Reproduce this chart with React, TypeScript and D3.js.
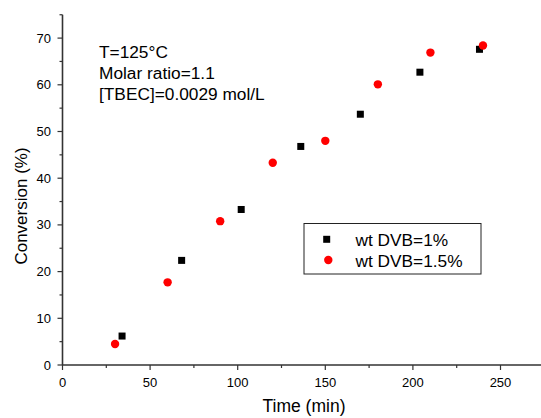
import React from "react";
import * as d3 from "d3";

const timeDVB1 = [34, 68, 102, 136, 170, 204, 238];
const convDVB1 = [6.2, 22.4, 33.3, 46.8, 53.7, 62.7, 67.6];
const timeDVB15 = [30, 60, 90, 120, 150, 180, 210, 240];
const convDVB15 = [4.5, 17.7, 30.8, 43.3, 48.0, 60.1, 66.9, 68.4];
const xTicks = [0, 50, 100, 150, 200, 250];
const yTicks = [0, 10, 20, 30, 40, 50, 60, 70];
const annotations = ["T=125°C", "Molar ratio=1.1", "[TBEC]=0.0029 mol/L"];
const legendLabels = ["wt DVB=1%", "wt DVB=1.5%"];

const W = 541;
const H = 418;
const x0 = 62.5;
const pxPerMin = 1.752;
const yBottom = 365;
const pxPerPct = 4.67;

export default function App() {
  const x = d3.scaleLinear().domain([0, 275]).range([x0, x0 + 275 * pxPerMin]);
  const y = d3.scaleLinear().domain([0, 75]).range([yBottom, yBottom - 75 * pxPerPct]);
  const xMinor = d3.range(25, 276, 50);
  const yMinor = d3.range(5, 76, 10);
  const axisColor = "#333";
  const font = "'Liberation Sans', Arial, sans-serif";

  return (
    <svg width={W} height={H} style={{ position: "absolute", left: 0, top: 0, background: "#fff" }} fontFamily={font}>
      <rect x={0} y={0} width={W} height={H} fill="#fff" />
      {/* axes lines */}
      <line x1={x(0)} x2={W} y1={y(0)} y2={y(0)} stroke={axisColor} strokeWidth={1.6} />
      <line x1={x(0)} x2={x(0)} y1={y(0)} y2={y(75)} stroke={axisColor} strokeWidth={1.6} />
      {/* x ticks */}
      {xTicks.map((t) => (
        <g key={"xt" + t}>
          <line x1={x(t)} x2={x(t)} y1={y(0)} y2={y(0) + 5} stroke={axisColor} strokeWidth={1.2} />
          <text x={x(t)} y={387} fontSize={13} textAnchor="middle" fill="#000">{t}</text>
        </g>
      ))}
      {xMinor.filter((t) => x(t) < W).map((t) => (
        <line key={"xm" + t} x1={x(t)} x2={x(t)} y1={y(0)} y2={y(0) + 3} stroke={axisColor} strokeWidth={1.2} />
      ))}
      {/* y ticks */}
      {yTicks.map((t) => (
        <g key={"yt" + t}>
          <line x1={x(0) - 5} x2={x(0)} y1={y(t)} y2={y(t)} stroke={axisColor} strokeWidth={1.2} />
          <text x={51} y={y(t) + 4.5} fontSize={13} textAnchor="end" fill="#000">{t}</text>
        </g>
      ))}
      {yMinor.map((t) => (
        <line key={"ym" + t} x1={x(0) - 3} x2={x(0)} y1={y(t)} y2={y(t)} stroke={axisColor} strokeWidth={1.2} />
      ))}
      {/* axis titles */}
      <text x={304} y={412} fontSize={17.5} textAnchor="middle" fill="#000">Time (min)</text>
      <text transform={`translate(27, 206) rotate(-90)`} fontSize={17} textAnchor="middle" fill="#000">Conversion (%)</text>
      {/* annotations */}
      {annotations.map((a, i) => (
        <text key={a} x={99} y={58 + i * 21} fontSize={17.3} fill="#000">{a}</text>
      ))}
      {/* data */}
      {timeDVB1.map((t, i) => (
        <rect key={"s" + i} x={x(t) - 3.5} y={y(convDVB1[i]) - 3.5} width={7} height={7} fill="#000" />
      ))}
      {timeDVB15.map((t, i) => (
        <circle key={"c" + i} cx={x(t)} cy={y(convDVB15[i])} r={4.2} fill="#ff0000" />
      ))}
      {/* legend */}
      <rect x={304} y={223.5} width={177} height={50.5} fill="#fff" stroke="#222" strokeWidth={1} />
      <rect x={326.7 - 3.5} y={239.3 - 3.5} width={7} height={7} fill="#000" />
      <circle cx={328.3} cy={260} r={4.2} fill="#ff0000" />
      <text x={355.5} y={245.5} fontSize={17.3} fill="#000">{legendLabels[0]}</text>
      <text x={355.5} y={266.5} fontSize={17.3} fill="#000">{legendLabels[1]}</text>
    </svg>
  );
}
